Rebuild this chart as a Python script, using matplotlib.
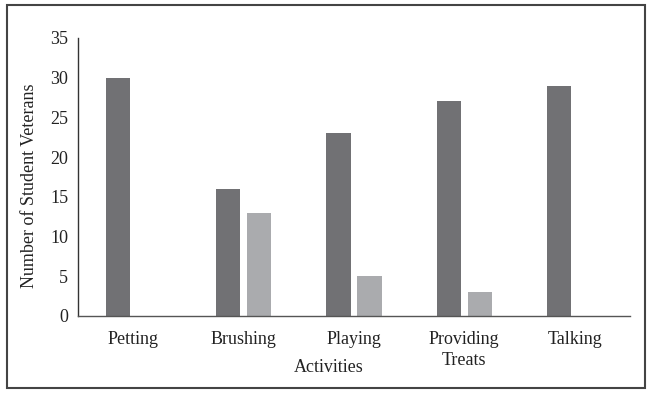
import matplotlib
matplotlib.use('Agg')
import matplotlib.pyplot as plt
from matplotlib.patches import Rectangle
import numpy as np

categories = ['Petting', 'Brushing', 'Playing', 'Providing\nTreats', 'Talking']
series_dark = [30, 16, 23, 27, 29]
series_light = [0, 13, 5, 3, 0]
yticks = [0, 5, 10, 15, 20, 25, 30, 35]


def main():
  plt.rcParams['font.family'] = ['Liberation Serif', 'DejaVu Serif']
  plt.rcParams['font.size'] = 13

  fig = plt.figure(figsize=(6.5, 3.95), dpi=100)
  ax = fig.add_axes([0.12, 0.2, 0.849, 0.704])

  x = np.arange(len(categories))
  w = 0.22
  ax.bar(x - 0.14, series_dark, w, color='#717174')
  ax.bar(x + 0.14, series_light, w, color='#aaabae')

  ax.set_xlim(-0.5, len(categories) - 0.5)
  ax.set_ylim(0, 35)
  ax.set_yticks(yticks)
  ax.set_xticks(x)
  ax.set_xticklabels(categories, linespacing=1.25)
  ax.tick_params(axis='both', length=0, colors='#222222', labelsize=13)
  ax.tick_params(axis='x', pad=11)
  ax.tick_params(axis='y', pad=7)

  for s in ['top', 'right']:
    ax.spines[s].set_visible(False)
  ax.spines['left'].set_color('#333333')
  ax.spines['bottom'].set_color('#555555')
  ax.spines['left'].set_linewidth(1.0)
  ax.spines['bottom'].set_linewidth(1.0)

  ax.set_xlabel('Activities', fontsize=13, color='#222222', labelpad=-6)
  ax.xaxis.set_label_coords(0.455, -0.155)
  ax.set_ylabel('Number of Student Veterans', fontsize=13, color='#222222')
  ax.yaxis.set_label_coords(-0.072, 0.468)

  fig.patches.append(Rectangle((7 / 650, 7 / 395), 638 / 650, 383 / 395,
                               transform=fig.transFigure, fill=False,
                               edgecolor='#444444', linewidth=1.5))

  fig.savefig('out.png', dpi=100)


if __name__ == "__main__":
  main()
